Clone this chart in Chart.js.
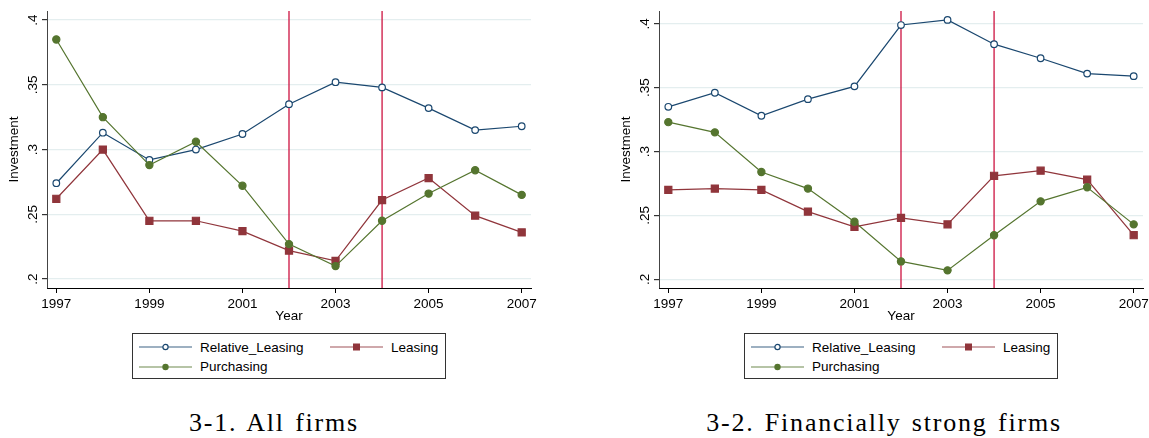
<!DOCTYPE html>
<html>
<head>
<meta charset="utf-8">
<script src="https://cdn.jsdelivr.net/npm/chart.js@4.4.1/dist/chart.umd.min.js"></script>
<style>
  body { margin: 0; background: #fff; width: 1149px; height: 438px; overflow: hidden; position: relative;
         font-family: "Liberation Sans", Arial, sans-serif; }
  canvas { position: absolute; top: 0; }
  .legend { position: absolute; top: 333px; width: 312px; height: 44px; border: 1px solid #333; font-size: 13.5px; }
  .legend .item { position: absolute; height: 16px; display: flex; align-items: center; white-space: nowrap; }
  .legend svg { margin-right: 8px; }
  .caption { position: absolute; top: 408px; width: 420px; text-align: center; line-height: 30px;
             font-family: "Liberation Serif", serif; font-size: 26px; letter-spacing: 1.8px; word-spacing: 2px; color: #000; }
</style>
</head>
<body>
<canvas id="allChart" width="545" height="330" style="left:0"></canvas>
<canvas id="strongChart" width="545" height="330" style="left:612px"></canvas>
<div class="legend" id="allLegend" style="left:132px"></div>
<div class="legend" id="strongLegend" style="left:744px"></div>
<div class="caption" style="left:64px">3-1. All firms</div>
<div class="caption" style="left:674px">3-2. Financially strong firms</div>

<script>
// data
const years       = [1997, 1998, 1999, 2000, 2001, 2002, 2003, 2004, 2005, 2006, 2007];
const xTicks      = [1997, 1999, 2001, 2003, 2005, 2007];
const yTicks      = [0.2, 0.25, 0.3, 0.35, 0.4];
const yTickLabels = ['.2', '.25', '.3', '.35', '.4'];
const eventYears  = [2002, 2004];
const seriesNames = ['Relative_Leasing', 'Leasing', 'Purchasing'];

// 3-1 all firms
const allRelative   = [0.274, 0.313, 0.292, 0.300, 0.312, 0.335, 0.352, 0.348, 0.332, 0.315, 0.318];
const allLeasing    = [0.262, 0.300, 0.245, 0.245, 0.237, 0.222, 0.214, 0.261, 0.278, 0.249, 0.236];
const allPurchasing = [0.385, 0.325, 0.288, 0.306, 0.272, 0.227, 0.210, 0.245, 0.266, 0.284, 0.265];

// 3-2 financially strong firms
const strongRelative   = [0.335, 0.346, 0.328, 0.341, 0.351, 0.399, 0.403, 0.384, 0.373, 0.361, 0.359];
const strongLeasing    = [0.270, 0.271, 0.270, 0.253, 0.241, 0.248, 0.243, 0.281, 0.285, 0.278, 0.2345];
const strongPurchasing = [0.323, 0.315, 0.284, 0.271, 0.245, 0.214, 0.207, 0.2345, 0.261, 0.272, 0.243];

const NAVY = '#1a476f', MAROON = '#90353b', GREEN = '#55752f', EVENT_RED = '#cc1240';
const styles = [
  { color: NAVY,   fill: '#fff',  pointStyle: 'circle', radius: 3.3, legendMarker: 'ring' },
  { color: MAROON, fill: MAROON,  pointStyle: 'rect',   radius: 5,   legendMarker: 'square' },
  { color: GREEN,  fill: GREEN,   pointStyle: 'circle', radius: 3.6, legendMarker: 'dot' }
];

Chart.defaults.font.family = '"Liberation Sans", Arial, sans-serif';
Chart.defaults.font.size = 13.5;
Chart.defaults.color = '#000';

// event lines and rotated y labels, Stata style
const stataBits = {
  id: 'stataBits',
  beforeDatasetsDraw(chart) {
    const { ctx, chartArea, scales: { x } } = chart;
    ctx.save();
    ctx.strokeStyle = EVENT_RED;
    ctx.lineWidth = 1.3;
    eventYears.forEach(yr => {
      const px = x.getPixelForValue(yr);
      ctx.beginPath();
      ctx.moveTo(px, chartArea.top);
      ctx.lineTo(px, chartArea.bottom);
      ctx.stroke();
    });
    ctx.restore();
  },
  afterDraw(chart) {
    const { ctx, chartArea, scales: { y } } = chart;
    ctx.save();
    ctx.fillStyle = '#000';
    ctx.font = '13.5px "Liberation Sans", Arial, sans-serif';
    ctx.textAlign = 'center';
    ctx.textBaseline = 'middle';
    yTicks.forEach((v, i) => {
      ctx.save();
      ctx.translate(chartArea.left - 14, y.getPixelForValue(v));
      ctx.rotate(-Math.PI / 2);
      ctx.fillText(yTickLabels[i], 0, 0);
      ctx.restore();
    });
    ctx.restore();
  }
};

function makeChart(id, seriesValues, yMin, yMax) {
  const datasets = seriesValues.map((vals, i) => ({
    label: seriesNames[i],
    data: years.map((yr, k) => ({ x: yr, y: vals[k] })),
    borderColor: styles[i].color,
    backgroundColor: styles[i].fill,
    pointBackgroundColor: styles[i].fill,
    pointBorderColor: styles[i].color,
    pointStyle: styles[i].pointStyle,
    pointRadius: styles[i].radius,
    pointHoverRadius: styles[i].radius,
    pointBorderWidth: 1.2,
    borderWidth: 1.2,
    tension: 0,
    order: 3 - i
  }));

  return new Chart(document.getElementById(id), {
    type: 'line',
    data: { datasets },
    plugins: [stataBits],
    options: {
      responsive: false,
      animation: false,
      layout: { padding: { top: 10, right: 14, left: 0, bottom: 0 } },
      plugins: { legend: { display: false }, tooltip: { enabled: false } },
      scales: {
        x: {
          type: 'linear', min: 1996.8, max: 2007.2,
          afterBuildTicks: s => { s.ticks = xTicks.map(v => ({ value: v })); },
          afterFit: s => { s.height = 42; },
          ticks: { padding: 3, callback: v => String(v) },
          grid: { drawOnChartArea: false, drawTicks: true, tickLength: 5, tickColor: '#000' },
          border: { color: '#000', width: 1 },
          title: { display: true, text: 'Year', padding: { top: 0, bottom: 6 } }
        },
        y: {
          min: yMin, max: yMax,
          afterBuildTicks: s => { s.ticks = yTicks.map(v => ({ value: v })); },
          afterFit: s => { s.width = 47; },
          ticks: { color: 'rgba(0,0,0,0)' },
          grid: { color: '#e4eeef', lineWidth: 1.2, tickColor: '#333', tickLength: 5 },
          border: { color: '#444', width: 1 },
          title: { display: true, text: 'Investment', padding: { top: 6, bottom: 0 } }
        }
      }
    }
  });
}

makeChart('allChart', [allRelative, allLeasing, allPurchasing], 0.1931, 0.4069);
makeChart('strongChart', [strongRelative, strongLeasing, strongPurchasing], 0.1932, 0.4099);

// legend boxes, two columns like Stata
function markerSvg(s) {
  let m = '';
  if (s.legendMarker === 'ring')   m = `<circle cx="26.5" cy="7" r="2.6" fill="#fff" stroke="${s.color}" stroke-width="1.2"/>`;
  if (s.legendMarker === 'square') m = `<rect x="23" y="3.5" width="7" height="7" fill="${s.color}"/>`;
  if (s.legendMarker === 'dot')    m = `<circle cx="26.5" cy="7" r="3.2" fill="${s.color}"/>`;
  return `<svg width="53" height="14"><line x1="0" y1="7" x2="53" y2="7" stroke="${s.color}" stroke-opacity="0.85" stroke-width="1.2"/>${m}</svg>`;
}
function buildLegend(id) {
  document.getElementById(id).innerHTML = seriesNames.map((name, i) => {
    const col = i % 2, row = Math.floor(i / 2);
    return `<div class="item" style="left:${6 + col * 191}px;top:${5 + row * 19.5}px">${markerSvg(styles[i])}<span>${name}</span></div>`;
  }).join('');
}
buildLegend('allLegend');
buildLegend('strongLegend');
</script>
</body>
</html>
